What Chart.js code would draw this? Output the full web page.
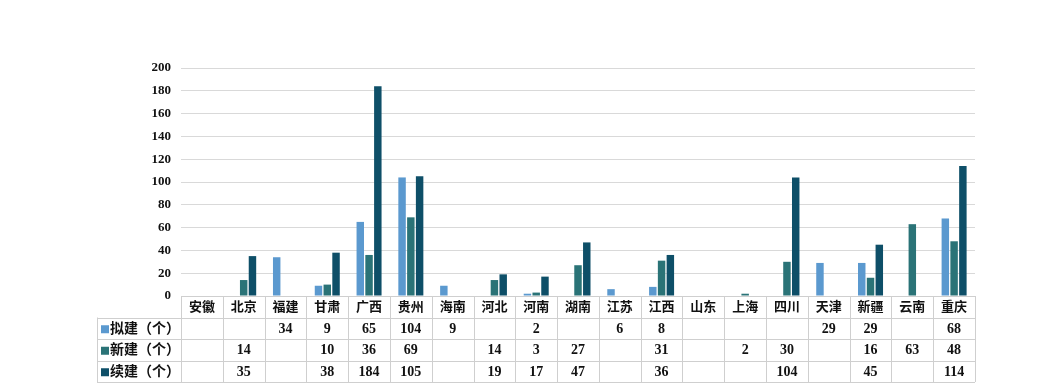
<!DOCTYPE html>
<html>
<head>
<meta charset="utf-8">
<script src="https://cdn.jsdelivr.net/npm/chart.js@4"></script>
<style>
  html, body { margin: 0; padding: 0; background: #fff; }
  #wrap { width: 1044px; height: 388px; }
</style>
</head>
<body>
<div id="wrap"><canvas id="projChart" width="1044" height="388"></canvas></div>
<script>
// data
const provinces = ['安徽', '北京', '福建', '甘肃', '广西', '贵州', '海南', '河北', '河南', '湖南',
  '江苏', '江西', '山东', '上海', '四川', '天津', '新疆', '云南', '重庆'];
const planned = [null, null, 34, 9, 65, 104, 9, null, 2, null, 6, 8, null, null, null, 29, 29, null, 68];
const newBuilt = [null, 14, null, 10, 36, 69, null, 14, 3, 27, null, 31, null, 2, 30, null, 16, 63, 48];
const continued = [null, 35, null, 38, 184, 105, null, 19, 17, 47, null, 36, null, null, 104, null, 45, null, 114];
const seriesNames = ['拟建（个）', '新建（个）', '续建（个）'];
const seriesColors = ['#5b99cf', '#2a7377', '#0e4f68'];
const yTicks = [0, 20, 40, 60, 80, 100, 120, 140, 160, 180, 200];

const cjk = '"Liberation Serif", "Noto Sans CJK SC", serif';

// draws the data table under the plot, using the x scale for column positions
const tablePlugin = {
  id: 'dataTable',
  afterDraw(chart) {
    const { ctx, chartArea } = chart;
    const xs = chart.scales.x;
    const colW = (chartArea.right - chartArea.left) / provinces.length;
    const rowH = 21.5;
    const top = chartArea.bottom;
    const legendLeft = 97;
    const rows = [planned, newBuilt, continued];

    ctx.save();
    ctx.strokeStyle = '#cfcfcf';
    ctx.lineWidth = 1;
    // horizontal lines
    for (let r = 0; r <= 4; r++) {
      const y = Math.round(top + r * rowH) + 0.5;
      ctx.beginPath();
      ctx.moveTo(r === 0 ? chartArea.left : legendLeft, y);
      ctx.lineTo(chartArea.right, y);
      ctx.stroke();
    }
    // vertical lines
    for (let i = 0; i <= provinces.length; i++) {
      const x = Math.round(chartArea.left + i * colW) + 0.5;
      ctx.beginPath();
      ctx.moveTo(x, top);
      ctx.lineTo(x, top + 4 * rowH);
      ctx.stroke();
    }
    ctx.beginPath();
    ctx.moveTo(legendLeft + 0.5, top + rowH);
    ctx.lineTo(legendLeft + 0.5, top + 4 * rowH);
    ctx.stroke();

    ctx.textAlign = 'center';
    ctx.textBaseline = 'middle';
    ctx.fillStyle = '#111';
    // header row
    ctx.font = 'bold 13px ' + cjk;
    provinces.forEach((p, i) => {
      ctx.fillText(p, xs.getPixelForValue(i), top + rowH / 2 + 1);
    });
    // series rows
    rows.forEach((vals, r) => {
      const cy = top + (r + 1) * rowH + rowH / 2 + 1;
      ctx.fillStyle = seriesColors[r];
      ctx.fillRect(legendLeft + 4, cy - 4, 8, 8);
      ctx.fillStyle = '#111';
      ctx.textAlign = 'left';
      ctx.font = 'bold 14px ' + cjk;
      ctx.fillText(seriesNames[r], legendLeft + 13, cy);
      ctx.textAlign = 'center';
      ctx.font = 'bold 14px "Liberation Serif", serif';
      vals.forEach((v, i) => {
        if (v !== null) ctx.fillText(String(v), xs.getPixelForValue(i), cy);
      });
    });
    ctx.restore();
  }
};

const ctx = document.getElementById('projChart').getContext('2d');
new Chart(ctx, {
  type: 'bar',
  data: {
    labels: provinces,
    datasets: [
      { label: seriesNames[0], data: planned, backgroundColor: seriesColors[0] },
      { label: seriesNames[1], data: newBuilt, backgroundColor: seriesColors[1] },
      { label: seriesNames[2], data: continued, backgroundColor: seriesColors[2] }
    ]
  },
  options: {
    responsive: false,
    animation: false,
    layout: { padding: { left: 96, right: 69, top: 68, bottom: 92 } },
    datasets: {
      bar: { categoryPercentage: 0.63, barPercentage: 0.85, borderWidth: 0 }
    },
    scales: {
      x: { display: false },
      y: {
        min: 0,
        max: 200,
        afterFit: s => { s.width = 85; },
        afterBuildTicks: s => { s.ticks = yTicks.map(v => ({ value: v })); },
        border: { display: false },
        grid: { color: '#d9d9d9', drawTicks: false },
        ticks: {
          padding: 10,
          color: '#111',
          font: { family: '"Liberation Serif", serif', size: 13, weight: 'bold' }
        }
      }
    },
    plugins: {
      legend: { display: false },
      tooltip: { enabled: false }
    }
  },
  plugins: [tablePlugin]
});
</script>
</body>
</html>
